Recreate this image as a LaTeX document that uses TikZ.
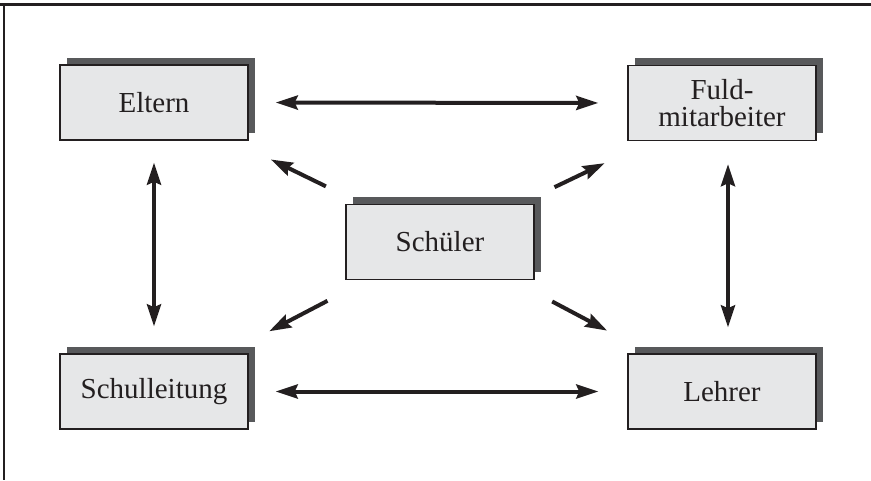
\documentclass[tikz,border=0pt]{standalone}
\usepackage{fontspec}
\setmainfont{Liberation Serif}
\usetikzlibrary{arrows.meta,shadows}

\definecolor{ink}{HTML}{231F20}
\definecolor{boxfill}{HTML}{E6E7E8}
\definecolor{shadowgray}{HTML}{58595B}

\tikzset{
  role/.style={
    draw=ink, line width=1.4pt, fill=boxfill, text=ink,
    minimum width=188pt, minimum height=75pt, inner sep=0pt,
    align=center, font=\fontsize{29}{27}\selectfont,
    drop shadow={shadow xshift=7pt, shadow yshift=7.5pt,
                 fill=shadowgray, opacity=1}
  },
  link/.style={
    draw=ink, line width=4pt,
    arrows={Stealth[length=22pt,width=14pt,inset=3pt]-Stealth[length=22pt,width=14pt,inset=3pt]}
  },
  ray/.style={
    draw=ink, line width=4pt,
    arrows={-Stealth[length=22pt,width=14pt,inset=3pt]},
    shorten <=127pt, shorten >=130pt
  }
}

\begin{document}
\begin{tikzpicture}[x=1pt,y=-1pt]
  \useasboundingbox (0,0) rectangle (871,480);

  % open frame: heavy rule on top, thin rule on the left
  \draw[ink, line width=3pt] (0,4.5) -- (871,4.5);
  \draw[ink, line width=1.7pt] (3.8,3) -- (3.8,480);

  % the five parties
  \node[role] (eltern)  at (154,102.5) {Eltern};
  \node[role] (fuld)    at (722,103)   {Fuld-\\mitarbeiter};
  \node[role] (schueler) at (440,242)  {Schüler};
  \node[role] (leitung) at (154,391.5) {Schulleitung};
  \node[role] (lehrer)  at (722,391.5) {Lehrer};

  % two-way links around the outside
  \draw[link, shorten <=27pt, shorten >=29pt] (eltern.east) -- (fuld.west);
  \draw[link, shorten <=27pt, shorten >=29pt] (leitung.east) -- (lehrer.west);
  \draw[link, shorten <=22pt, shorten >=27pt] (eltern.south) -- (leitung.north);
  \draw[link, shorten <=23pt, shorten >=26pt]
    ([xshift=6pt]fuld.south) -- ([xshift=6pt]lehrer.north);

  % the student reaches out to everyone
  \draw[ray] (schueler.center) -- (eltern.center);
  \draw[ray] (schueler.center) -- ([yshift=-4pt]fuld.center);
  \draw[ray] (schueler.center) -- (leitung.center);
  \draw[ray] (schueler.center) -- (lehrer.center);
\end{tikzpicture}
\end{document}
